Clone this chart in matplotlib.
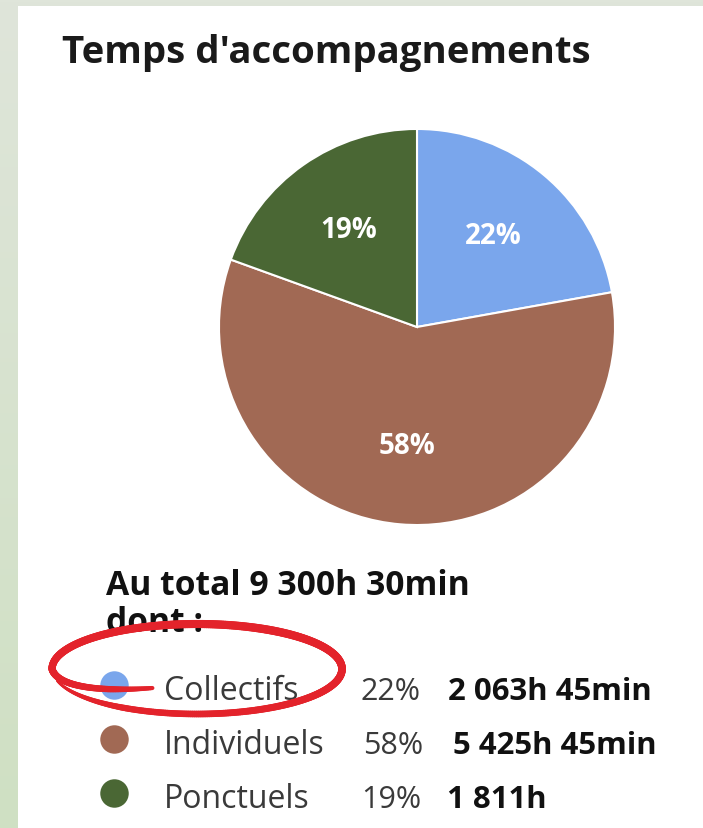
import numpy as np
import matplotlib
matplotlib.use("Agg")
import matplotlib.pyplot as plt
from matplotlib.colors import LinearSegmentedColormap
from matplotlib.collections import LineCollection

# ---- data ----
categories = ["Collectifs", "Individuels", "Ponctuels"]
hours = [2063.75, 5425.75, 1811.0]
pct_labels = ["22%", "58%", "19%"]
value_labels = ["2 063h 45min", "5 425h 45min", "1 811h"]
colors = ["#7AA6EC", "#A16954", "#4A6734"]
title = "Temps d'accompagnements"
total_line1 = "Au total 9 300h 30min"
total_line2 = "dont :"

W, H = 703, 829
fig = plt.figure(figsize=(W / 100, H / 100), dpi=100)

# background gradient
bg = fig.add_axes([0, 0, 1, 1])
bg.set_axis_off()
grad = np.linspace(0, 1, 256).reshape(-1, 1)
cmap = LinearSegmentedColormap.from_list("bg", ["#DFE5DA", "#CFE0C3"])
bg.imshow(grad, aspect="auto", cmap=cmap, extent=[0, W, H, 0])
bg.set_xlim(0, W)
bg.set_ylim(H, 0)
bg.add_patch(plt.Rectangle((18, 7), W - 18, H - 7, facecolor="white", edgecolor="none"))

# overlay in pixel coordinates
ov = fig.add_axes([0, 0, 1, 1])
ov.set_axis_off()
ov.set_xlim(0, W)
ov.set_ylim(H, 0)
ov.patch.set_alpha(0)

FONT = "Open Sans"
ov.text(62, 63, title, fontsize=27.6, fontweight="bold", family=FONT,
        color="#1a1a1a", va="baseline", ha="left")

# pie
cx, cy, r = 417, 328, 200
pax = fig.add_axes([(cx - r) / W, (H - cy - r) / H, 2 * r / W, 2 * r / H])
wedges, texts, autotexts = pax.pie(
    hours, colors=colors, startangle=90, counterclock=False,
    autopct="%.0f%%", pctdistance=0.6,
    wedgeprops=dict(edgecolor="white", linewidth=1.5),
    textprops=dict(color="white", fontsize=20, fontweight="bold", family=FONT))
pax.set_xlim(-1.01, 1.01)
pax.set_ylim(-1.01, 1.01)

# totals text
ov.text(106, 595, total_line1, fontsize=24.2, fontweight="bold", family=FONT,
        color="#111111", va="baseline", ha="left")
ov.text(106, 632, total_line2, fontsize=24.2, fontweight="bold", family=FONT,
        color="#111111", va="baseline", ha="left")

# legend rows
row_base = [700, 754, 808]
pct_x = [360, 363, 361]
val_x = [448, 453, 447]
for i, cat in enumerate(categories):
    yb = row_base[i]
    ov.scatter([114], [yb - 14], s=420, color=colors[i], zorder=3, linewidths=0)
    ov.text(164, yb, cat, fontsize=23, family=FONT, color="#3a3a3a",
            va="baseline", ha="left")
    ov.text(pct_x[i], yb, pct_labels[i], fontsize=22, family=FONT,
            color="#3a3a3a", va="baseline", ha="left")
    ov.text(val_x[i], yb, value_labels[i], fontsize=22.4, fontweight="bold",
            family=FONT, color="#111111", va="baseline", ha="left")

# red hand-drawn ellipse annotation (screen coords, y down)
th = np.deg2rad(np.linspace(110, 525, 500))
deg = np.rad2deg(th)
ascale = np.interp(deg, [110, 180, 525], [0.90, 1.0, 1.0])
bscale = np.interp(deg, [110, 150, 190, 525], [0.45, 0.72, 1.0, 1.0])
ecx, ecy, a, b = 197, 670, 145, 45
px = ecx + a * ascale * np.cos(th)
py = ecy + b * bscale * np.sin(th)
pts = np.column_stack([px, py]).reshape(-1, 1, 2)
segs = np.concatenate([pts[:-1], pts[1:]], axis=1)
lw = np.interp(deg[:-1], [110, 130, 200, 300, 480, 525], [3.0, 4.5, 5.5, 6.0, 4.5, 1.5])
lc = LineCollection(segs, linewidths=lw, colors="#E3232B", capstyle="round", zorder=5)
ov.add_collection(lc)

fig.savefig("out.png", dpi=100)
